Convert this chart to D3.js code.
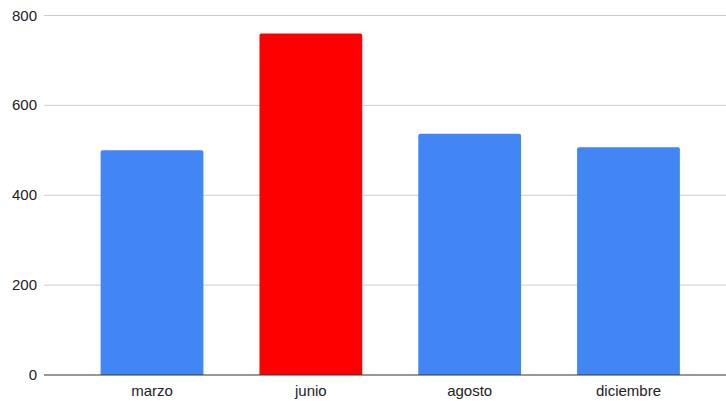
<!DOCTYPE html>
<html>
<head>
<meta charset="utf-8">
<script src="https://cdn.jsdelivr.net/npm/d3@7"></script>
<style>
  body { margin: 0; background: #fff; }
  svg text { font-family: "Liberation Sans", Arial, sans-serif; fill: #222; }
</style>
</head>
<body>
<svg id="chart" width="726" height="401"></svg>
<script>
const months = ["marzo", "junio", "agosto", "diciembre"];
const values = [500, 760, 537, 507];
const barColors = ["#4285f4", "#ff0000", "#4285f4", "#4285f4"];
const yTicks = [0, 200, 400, 600, 800];

const svg = d3.select("#chart");
const plotLeft = 44, plotRight = 726, plotTop = 15.5, plotBottom = 375;

const x = d3.scaleBand()
  .domain(months)
  .range([72.6, 707.9])
  .paddingInner(0.353)
  .paddingOuter(0.1765);

const y = d3.scaleLinear().domain([0, 800]).range([plotBottom, plotTop]);

// gridlines
svg.append("g")
  .selectAll("line")
  .data(yTicks.filter(d => d > 0))
  .join("line")
  .attr("x1", plotLeft).attr("x2", plotRight)
  .attr("y1", d => y(d)).attr("y2", d => y(d))
  .attr("stroke", "#cccccc").attr("stroke-width", 1);

// y labels
svg.append("g")
  .selectAll("text")
  .data(yTicks)
  .join("text")
  .attr("x", 37)
  .attr("y", d => y(d) + 5)
  .attr("text-anchor", "end")
  .style("font-size", "15px")
  .text(d => d);

// bars with slightly rounded tops
const r = 2;
svg.append("g")
  .selectAll("path")
  .data(months)
  .join("path")
  .attr("fill", (d, i) => barColors[i])
  .attr("d", (d, i) => {
    const x0 = x(d), x1 = x(d) + x.bandwidth();
    const yt = y(values[i]), yb = y(0);
    return `M${x0},${yb}V${yt + r}Q${x0},${yt} ${x0 + r},${yt}H${x1 - r}Q${x1},${yt} ${x1},${yt + r}V${yb}Z`;
  });

// baseline
svg.append("line")
  .attr("x1", plotLeft).attr("x2", plotRight)
  .attr("y1", y(0)).attr("y2", y(0))
  .attr("stroke", "#333333").attr("stroke-width", 1.2);

// x labels
svg.append("g")
  .selectAll("text")
  .data(months)
  .join("text")
  .attr("x", d => x(d) + x.bandwidth() / 2)
  .attr("y", 396)
  .attr("text-anchor", "middle")
  .style("font-size", "15px")
  .text(d => d);
</script>
</body>
</html>
